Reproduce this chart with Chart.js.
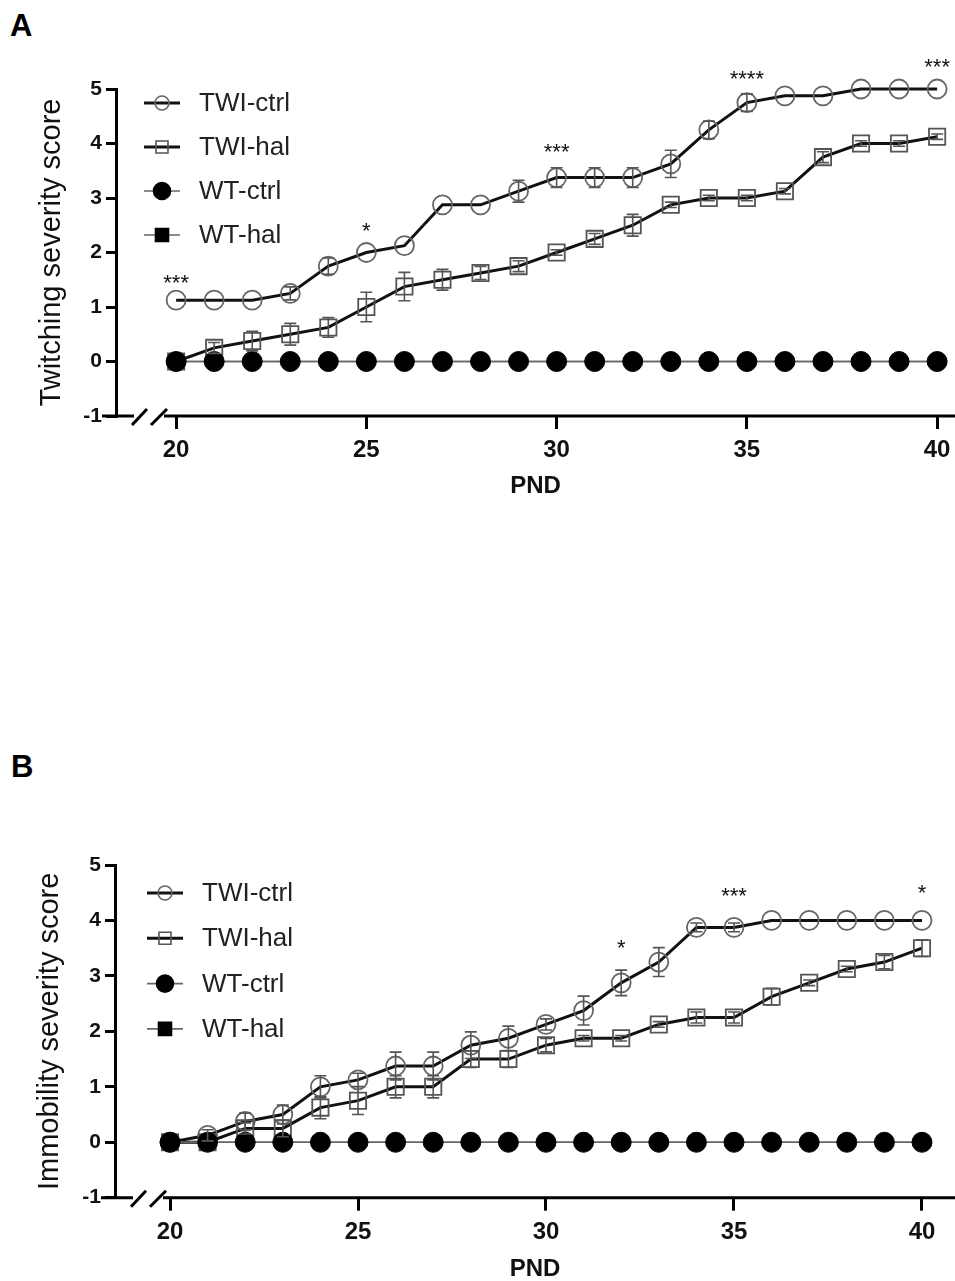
<!DOCTYPE html>
<html>
<head>
<meta charset="utf-8">
<script src="https://cdn.jsdelivr.net/npm/chart.js@4.4.1/dist/chart.umd.min.js"></script>
<style>
  body { margin: 0; background: #fff; width: 955px; height: 1281px; position: relative; overflow: hidden; font-family: "Liberation Sans", Arial, sans-serif; }
  .panel-label { position: absolute; font-weight: bold; font-size: 31px; line-height: 1; color: #000; }
  .wrap { position: absolute; left: 0; width: 955px; }
</style>
</head>
<body>
<div class="panel-label" style="left:10px;top:10px">A</div>
<div class="panel-label" style="left:11px;top:751px">B</div>
<div class="wrap" style="top:0;height:500px"><canvas id="chartA" width="955" height="500"></canvas></div>
<div class="wrap" style="top:760px;height:521px"><canvas id="chartB" width="955" height="521"></canvas></div>
<script>
// postnatal days and axis ticks
const days = [20, 21, 22, 23, 24, 25, 26, 27, 28, 29, 30, 31, 32, 33, 34, 35, 36, 37, 38, 39, 40];
const xTicks = [20, 25, 30, 35, 40];
const seriesNames = ['TWI-ctrl', 'TWI-hal', 'WT-ctrl', 'WT-hal'];

// A - twitching
const twitchTwiCtrl = [1.125, 1.125, 1.125, 1.25, 1.75, 2, 2.125, 2.875, 2.875, 3.125, 3.375, 3.375, 3.375, 3.625, 4.25, 4.75, 4.875, 4.875, 5, 5, 5];
const twitchTwiCtrlErr = [0, 0, 0, 0.12, 0.15, 0, 0, 0, 0, 0.2, 0.18, 0.18, 0.18, 0.25, 0.16, 0.16, 0, 0, 0, 0, 0];
const twitchTwiHal = [0, 0.25, 0.375, 0.5, 0.625, 1, 1.375, 1.5, 1.625, 1.75, 2, 2.25, 2.5, 2.875, 3, 3, 3.125, 3.75, 4, 4, 4.125];
const twitchTwiHalErr = [0, 0.1, 0.18, 0.2, 0.18, 0.27, 0.26, 0.19, 0.12, 0.1, 0.05, 0.1, 0.2, 0.05, 0.05, 0.05, 0.05, 0.1, 0.05, 0.05, 0.05];
const twitchWtCtrl = [0, 0, 0, 0, 0, 0, 0, 0, 0, 0, 0, 0, 0, 0, 0, 0, 0, 0, 0, 0, 0];
const twitchWtHal = [0, 0, 0, 0, 0, 0, 0, 0, 0, 0, 0, 0, 0, 0, 0, 0, 0, 0, 0, 0, 0];
const twitchStars = ['***', '*', '***', '****', '***'];
const twitchStarDays = [20, 25, 30, 35, 40];
const twitchStarY = [1.54, 2.49, 3.94, 5.27, 5.49];

// B - immobility
const immobTwiCtrl = [0, 0.125, 0.375, 0.5, 1, 1.125, 1.375, 1.375, 1.75, 1.875, 2.125, 2.375, 2.875, 3.25, 3.875, 3.875, 4, 4, 4, 4, 4];
const immobTwiCtrlErr = [0, 0.1, 0.15, 0.17, 0.2, 0.12, 0.25, 0.25, 0.24, 0.22, 0.1, 0.26, 0.23, 0.26, 0.08, 0.08, 0, 0, 0, 0, 0];
const immobTwiHal = [0, 0, 0.25, 0.25, 0.625, 0.75, 1, 1, 1.5, 1.5, 1.75, 1.875, 1.875, 2.125, 2.25, 2.25, 2.625, 2.875, 3.125, 3.25, 3.5];
const immobTwiHalErr = [0, 0, 0.1, 0.15, 0.2, 0.25, 0.2, 0.2, 0.15, 0.15, 0.12, 0.05, 0.05, 0.05, 0.1, 0.1, 0.15, 0.05, 0.05, 0.12, 0.15];
const immobWtCtrl = [0, 0, 0, 0, 0, 0, 0, 0, 0, 0, 0, 0, 0, 0, 0, 0, 0, 0, 0, 0, 0];
const immobWtHal = [0, 0, 0, 0, 0, 0, 0, 0, 0, 0, 0, 0, 0, 0, 0, 0, 0, 0, 0, 0, 0];
const immobStars = ['*', '***', '*'];
const immobStarDays = [32, 35, 40];
const immobStarY = [3.6, 4.53, 4.58];

Chart.defaults.font.family = '"Liberation Sans", Arial, sans-serif';
Chart.defaults.color = '#000';

const pts = (vals) => days.map((d, i) => ({x: d, y: vals[i]}));

// whiskers for mean +/- sem
const errorBars = {
    id: 'errorBars',
    afterDatasetsDraw(chart) {
        const {ctx, scales: {x, y}} = chart;
        ctx.save();
        ctx.strokeStyle = '#555';
        ctx.lineWidth = 1.6;
        chart.data.datasets.forEach(ds => {
            if (!ds.errors) return;
            ds.data.forEach((p, i) => {
                const e = ds.errors[i];
                if (!e) return;
                const px = x.getPixelForValue(p.x);
                const top = y.getPixelForValue(p.y + e);
                const bot = y.getPixelForValue(p.y - e);
                ctx.beginPath();
                ctx.moveTo(px, top); ctx.lineTo(px, bot);
                ctx.moveTo(px - 6, top); ctx.lineTo(px + 6, top);
                ctx.moveTo(px - 6, bot); ctx.lineTo(px + 6, bot);
                ctx.stroke();
            });
        });
        ctx.restore();
    }
};

// significance asterisks
const stars = {
    id: 'stars',
    afterDraw(chart, args, opts) {
        const {ctx, scales: {x, y}} = chart;
        ctx.save();
        ctx.font = '22px "Liberation Sans", Arial, sans-serif';
        ctx.fillStyle = '#111';
        ctx.textAlign = 'center';
        ctx.textBaseline = 'alphabetic';
        opts.labels.forEach((s, i) => {
            ctx.fillText(s, x.getPixelForValue(opts.days[i]), y.getPixelForValue(opts.y[i]) + 12);
        });
        ctx.restore();
    }
};

// x axis with the break marks next to the y axis
const brokenAxis = {
    id: 'brokenAxis',
    afterDraw(chart) {
        const {ctx, chartArea: {left, bottom}, width} = chart;
        ctx.save();
        ctx.strokeStyle = '#000';
        ctx.lineWidth = 3;
        ctx.beginPath();
        ctx.moveTo(left - 14, bottom); ctx.lineTo(left + 18, bottom);
        ctx.moveTo(left + 48, bottom); ctx.lineTo(width, bottom);
        ctx.moveTo(left + 16, bottom + 9); ctx.lineTo(left + 31, bottom - 7);
        ctx.moveTo(left + 35, bottom + 9); ctx.lineTo(left + 51, bottom - 7);
        ctx.stroke();
        ctx.restore();
    }
};

// legend drawn as line + marker samples
const lineLegend = {
    id: 'lineLegend',
    afterDraw(chart, args, opts) {
        const {ctx} = chart;
        ctx.save();
        chart.data.datasets.forEach((ds, i) => {
            const yy = opts.top + i * opts.step;
            const x0 = opts.left, x1 = opts.left + 36, xm = opts.left + 18;
            ctx.strokeStyle = ds.borderColor;
            ctx.lineWidth = ds.borderWidth;
            ctx.beginPath();
            ctx.moveTo(x0, yy); ctx.lineTo(x1, yy);
            ctx.stroke();
            ctx.lineWidth = 1.6;
            ctx.strokeStyle = ds.pointBorderColor;
            ctx.fillStyle = ds.pointBackgroundColor;
            ctx.beginPath();
            if (ds.pointStyle === 'circle') {
                const r = ds.filled ? 8.5 : 7;
                ctx.arc(xm, yy, r, 0, Math.PI * 2);
            } else {
                const h = ds.filled ? 6.5 : 6;
                ctx.rect(xm - h, yy - h, 2 * h, 2 * h);
            }
            ctx.fill();
            ctx.stroke();
            ctx.fillStyle = '#222';
            ctx.font = '26px "Liberation Sans", Arial, sans-serif';
            ctx.textBaseline = 'middle';
            ctx.textAlign = 'left';
            ctx.fillText(ds.label, opts.left + 55, yy + 1);
        });
        ctx.restore();
    }
};

function makeChart(id, p) {
    const datasets = [
        {label: seriesNames[0], data: pts(p.twiCtrl), errors: p.twiCtrlErr, order: 3,
         borderColor: '#111', borderWidth: 3, pointStyle: 'circle', pointRadius: 9.5,
         pointBackgroundColor: 'rgba(255,255,255,0)', pointBorderColor: '#666', pointBorderWidth: 1.8},
        {label: seriesNames[1], data: pts(p.twiHal), errors: p.twiHalErr, order: 2,
         borderColor: '#111', borderWidth: 3, pointStyle: 'rect', pointRadius: 11.5,
         pointBackgroundColor: 'rgba(255,255,255,0)', pointBorderColor: '#555', pointBorderWidth: 1.8},
        {label: seriesNames[2], data: pts(p.wtCtrl), order: 0, filled: true,
         borderColor: '#666', borderWidth: 1.6, pointStyle: 'circle', pointRadius: 10,
         pointBackgroundColor: '#000', pointBorderColor: '#000', pointBorderWidth: 1},
        {label: seriesNames[3], data: pts(p.wtHal), order: 1, filled: true,
         borderColor: '#666', borderWidth: 1.6, pointStyle: 'rect', pointRadius: 9,
         pointBackgroundColor: '#000', pointBorderColor: '#000', pointBorderWidth: 1}
    ];
    return new Chart(document.getElementById(id), {
        type: 'line',
        data: {datasets},
        options: {
            responsive: false,
            animation: false,
            events: [],
            clip: false,
            elements: {line: {tension: 0}},
            layout: {autoPadding: false, padding: {top: p.top, left: 0, right: 0, bottom: 0}},
            scales: {
                x: {
                    type: 'linear',
                    min: p.xMin,
                    max: p.xMax,
                    afterBuildTicks: s => { s.ticks = xTicks.map(v => ({value: v})); },
                    afterFit: s => { s.height = p.xHeight; s.paddingLeft = 0; s.paddingRight = 0; },
                    border: {display: false},
                    grid: {drawOnChartArea: false, drawTicks: true, tickLength: 13, lineWidth: 3, color: '#000'},
                    ticks: {font: {size: 24, weight: 'bold'}, padding: 7, maxRotation: 0, autoSkip: false, color: '#111'},
                    title: {display: true, text: 'PND', font: {size: 24, weight: 'bold', lineHeight: 1}, padding: {top: 0, bottom: p.titleBottom}, color: '#111'}
                },
                y: {
                    min: -1,
                    max: 5,
                    afterFit: s => { s.width = p.yWidth; s.paddingTop = 0; s.paddingBottom = 0; },
                    border: {display: true, width: 3, color: '#000'},
                    grid: {drawOnChartArea: false, drawTicks: true, tickLength: 10, lineWidth: 3, color: '#000'},
                    ticks: {stepSize: 1, font: {size: 21, weight: 'bold'}, padding: 4, color: '#111'},
                    title: {display: true, text: p.yTitle, font: {size: 29, lineHeight: 1}, padding: {top: p.yTitlePad, bottom: 0}, color: '#111'}
                }
            },
            plugins: {
                legend: {display: false},
                tooltip: {enabled: false},
                stars: {labels: p.stars, days: p.starDays, y: p.starY},
                lineLegend: {left: p.legendLeft, top: p.legendTop, step: p.legendStep}
            }
        },
        plugins: [errorBars, stars, brokenAxis, lineLegend]
    });
}

makeChart('chartA', {
    twiCtrl: twitchTwiCtrl, twiCtrlErr: twitchTwiCtrlErr, twiHal: twitchTwiHal, twiHalErr: twitchTwiHalErr,
    wtCtrl: twitchWtCtrl, wtHal: twitchWtHal,
    stars: twitchStars, starDays: twitchStarDays, starY: twitchStarY,
    yTitle: 'Twitching severity score',
    top: 89, xHeight: 84, yWidth: 116, xMin: 18.42, xMax: 40.47,
    titleBottom: 2, yTitlePad: 37, legendLeft: 144, legendTop: 103, legendStep: 44
});

makeChart('chartB', {
    twiCtrl: immobTwiCtrl, twiCtrlErr: immobTwiCtrlErr, twiHal: immobTwiHal, twiHalErr: immobTwiHalErr,
    wtCtrl: immobWtCtrl, wtHal: immobWtHal,
    stars: immobStars, starDays: immobStarDays, starY: immobStarY,
    yTitle: 'Immobility severity score',
    top: 105, xHeight: 83.3, yWidth: 115, xMin: 18.537, xMax: 40.878,
    titleBottom: 0, yTitlePad: 35, legendLeft: 147, legendTop: 133, legendStep: 45.3
});
</script>
</body>
</html>
